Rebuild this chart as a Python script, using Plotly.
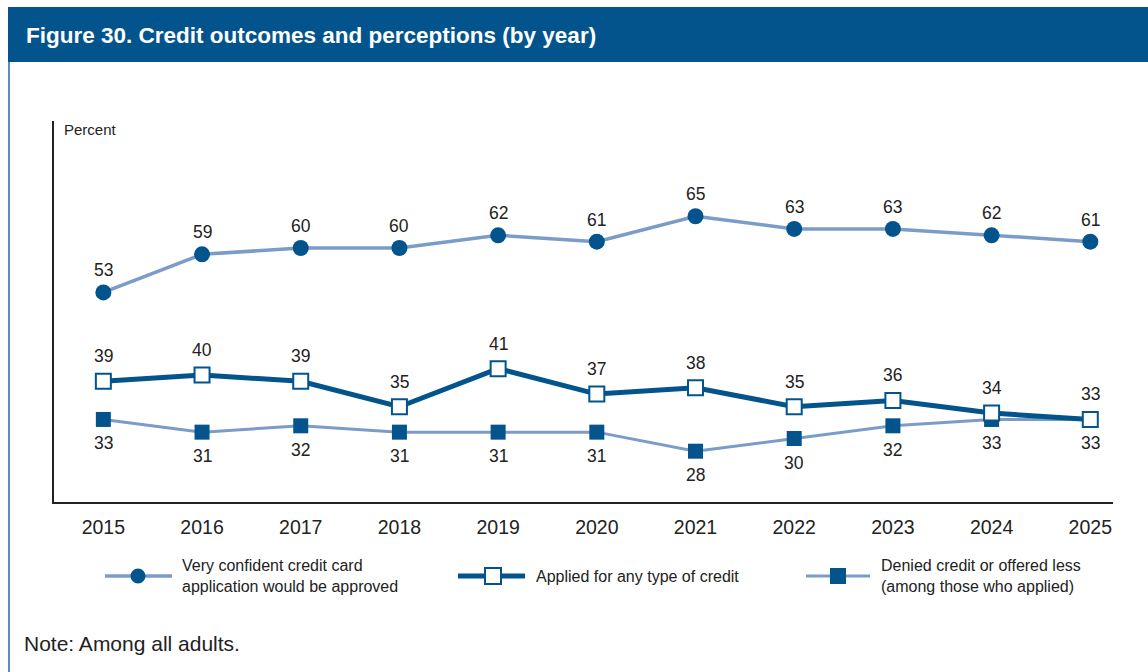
import plotly.graph_objects as go

# Survey years and series values (percent)
years = [2015, 2016, 2017, 2018, 2019, 2020, 2021, 2022, 2023, 2024, 2025]
confident = [53, 59, 60, 60, 62, 61, 65, 63, 63, 62, 61]
applied = [39, 40, 39, 35, 41, 37, 38, 35, 36, 34, 33]
denied = [33, 31, 32, 31, 31, 31, 28, 30, 32, 33, 33]

legend_names = [
    "Very confident credit card<br>application would be approved",
    "Applied for any type of credit",
    "Denied credit or offered less<br>(among those who applied)",
]
title_text = "Figure 30. Credit outcomes and perceptions (by year)"
note_text = "Note: Among all adults."

DARK = "#03548c"
LIGHT = "#7b9cc8"
TEXT = "#222222"
W, H = 1148, 672
L, R, T, B = 54, 1113, 121, 502  # plot area in pixels


def px(x):
    return (x - L) / (R - L)


def py(y):
    return (B - y) / (B - T)


fig = go.Figure()

fig.add_trace(go.Scatter(
    x=years, y=confident, mode="lines+markers",
    line=dict(color=LIGHT, width=3.5),
    marker=dict(symbol="circle", size=16, color=DARK, line=dict(width=0)),
    showlegend=False, cliponaxis=False,
))
fig.add_trace(go.Scatter(
    x=years, y=denied, mode="lines+markers",
    line=dict(color=LIGHT, width=3),
    marker=dict(symbol="square", size=15, color=DARK, line=dict(width=0)),
    showlegend=False, cliponaxis=False,
))
fig.add_trace(go.Scatter(
    x=years, y=applied, mode="lines+markers",
    line=dict(color=DARK, width=5),
    marker=dict(symbol="square", size=15, color="white", line=dict(width=2, color=DARK)),
    showlegend=False, cliponaxis=False,
))

annotations = []
label_font = dict(family="Liberation Sans, Arial, sans-serif", size=17.5, color=TEXT)
for yr, v in zip(years, confident):
    annotations.append(dict(x=yr, y=v, xref="x", yref="y", text=str(v), showarrow=False,
                            yshift=22, font=label_font))
for yr, v in zip(years, applied):
    annotations.append(dict(x=yr, y=v, xref="x", yref="y", text=str(v), showarrow=False,
                            yshift=25, font=label_font))
for yr, v in zip(years, denied):
    annotations.append(dict(x=yr, y=v, xref="x", yref="y", text=str(v), showarrow=False,
                            yshift=-24, font=label_font))

# Title, axis caption and note
annotations.append(dict(x=px(24), y=py(35), xref="paper", yref="paper", text="<b>" + title_text + "</b>",
                        showarrow=False, xanchor="left", yanchor="middle",
                        font=dict(family="Liberation Sans, Arial, sans-serif", size=22.5, color="white")))
annotations.append(dict(x=px(62), y=py(130), xref="paper", yref="paper", text="Percent",
                        showarrow=False, xanchor="left", yanchor="middle",
                        font=dict(family="Liberation Sans, Arial, sans-serif", size=15, color=TEXT)))
annotations.append(dict(x=px(22), y=py(643), xref="paper", yref="paper", text=note_text,
                        showarrow=False, xanchor="left", yanchor="middle",
                        font=dict(family="Liberation Sans, Arial, sans-serif", size=21, color=TEXT)))

shapes = [
    dict(type="rect", xref="paper", yref="paper", x0=px(8), x1=px(W), y0=py(62), y1=py(7),
         fillcolor=DARK, line=dict(width=0), layer="below"),
    dict(type="line", xref="paper", yref="paper", x0=px(9), x1=px(9), y0=py(62), y1=py(H),
         line=dict(color="#5b8fc0", width=2)),
]

# Legend drawn as shapes and text
legend_font = dict(family="Liberation Sans Narrow, Arial Narrow, sans-serif", size=16, color=TEXT)
ly = 576
items = [
    (105, 172, 138, "circle", LIGHT, 3.5, DARK, 0, 15, 180),
    (458, 525, 493, "square", DARK, 5, "white", 2, 16, 534),
    (806, 870, 838, "square", LIGHT, 3, DARK, 0, 16, 879),
]
for (x0, x1, cx, sym, lc, lw, fc, bw, sz, tx), name in zip(items, legend_names):
    shapes.append(dict(type="line", xref="paper", yref="paper", x0=px(x0), x1=px(x1),
                       y0=py(ly), y1=py(ly), line=dict(color=lc, width=lw)))
    h = sz / 2
    shapes.append(dict(type=sym if sym == "circle" else "rect", xref="paper", yref="paper",
                       x0=px(cx - h), x1=px(cx + h), y0=py(ly + h), y1=py(ly - h),
                       fillcolor=fc, line=dict(color=DARK, width=bw)))
    annotations.append(dict(x=px(tx), y=py(ly), xref="paper", yref="paper", text=name,
                            showarrow=False, xanchor="left", yanchor="middle", align="left",
                            font=legend_font))

fig.update_layout(
    width=W, height=H,
    margin=dict(l=L, r=W - R, t=T, b=H - B),
    paper_bgcolor="white", plot_bgcolor="white",
    annotations=annotations, shapes=shapes,
    xaxis=dict(range=[2014.5, 2025.23], tickvals=years, ticktext=[str(y) for y in years],
               showgrid=False, zeroline=False, showline=True, linecolor=TEXT, linewidth=1.5,
               ticks="", ticklabelstandoff=7,
               tickfont=dict(family="Liberation Sans, Arial, sans-serif", size=19.5, color=TEXT)),
    yaxis=dict(range=[20, 80], showgrid=False, zeroline=False, showline=True, linecolor=TEXT,
               linewidth=1.5, showticklabels=False, ticks=""),
)

fig.write_html("out.html")
